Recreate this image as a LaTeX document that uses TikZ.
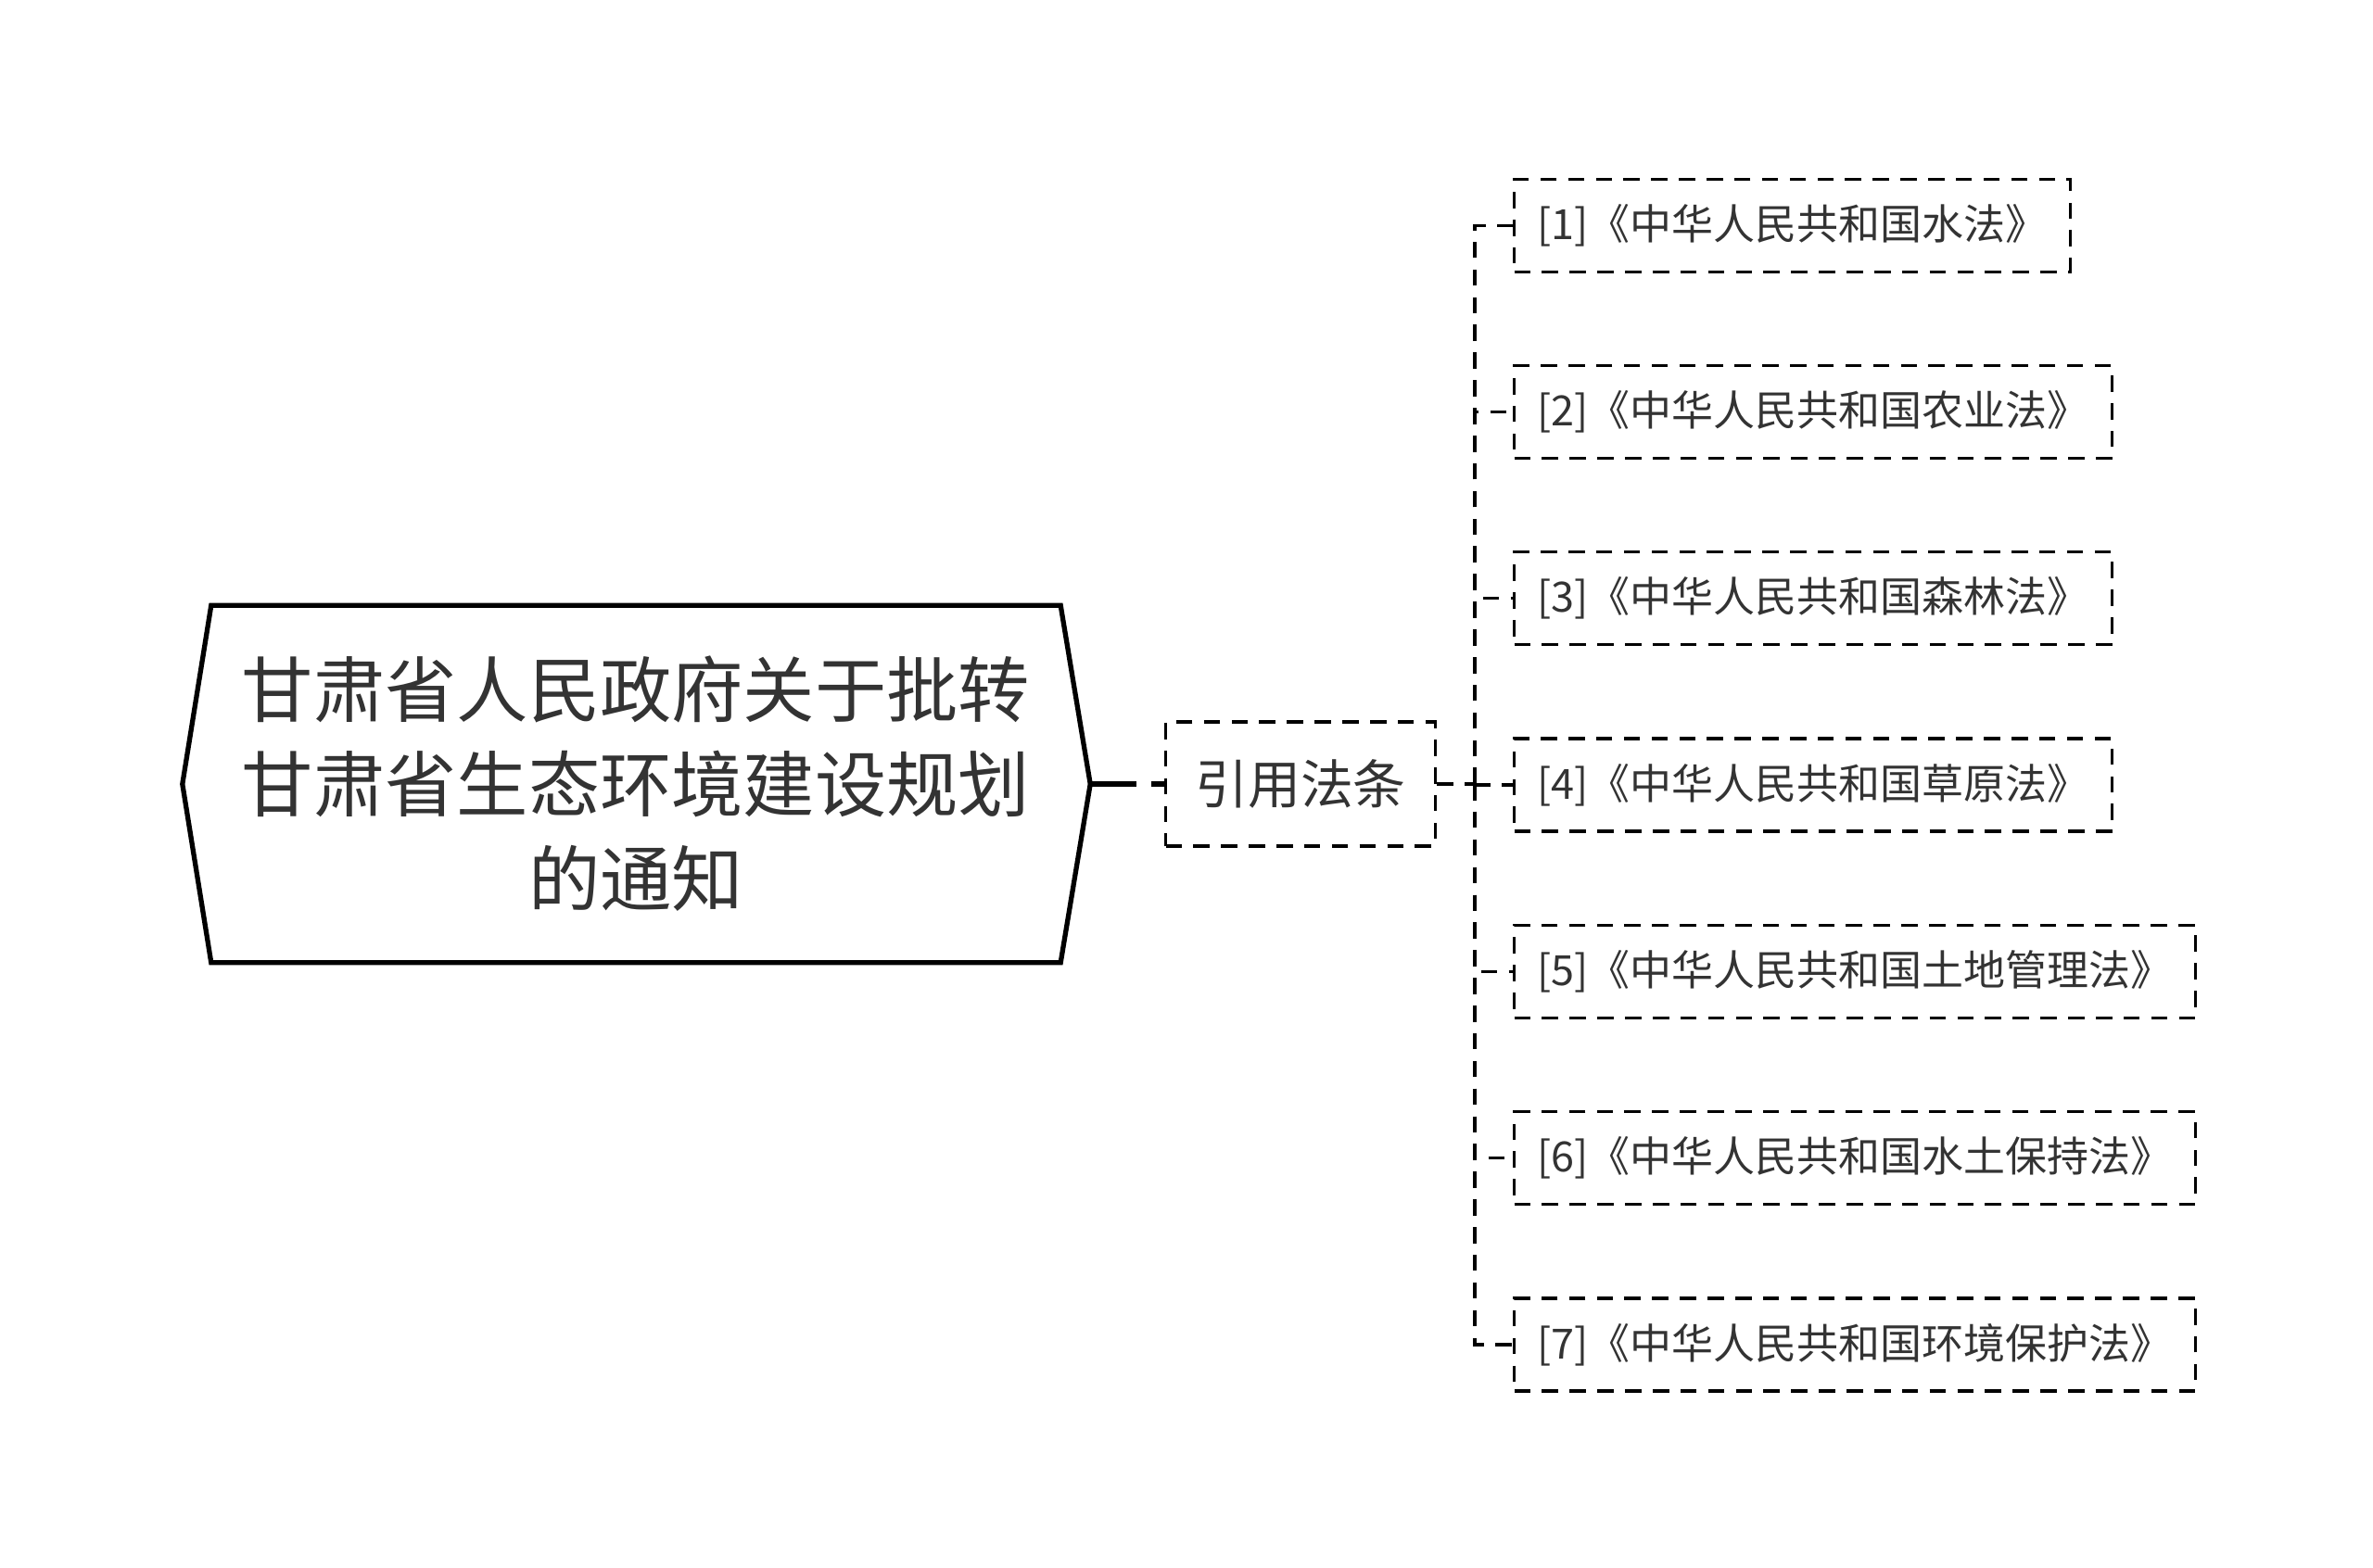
\documentclass[tikz,border=0pt]{standalone}
\usepackage{fontspec}
\setmainfont{Noto Sans CJK SC}
\usetikzlibrary{calc}

\begin{document}
\begin{tikzpicture}[
  ink/.style={text=black!80},
  dashline/.style={line width=0.9pt,dash pattern=on 5pt off 3.5pt},
  lawbox/.style={draw,dashline,anchor=west,inner xsep=0.25cm,minimum height=1.0cm,
    font=\fontsize{12.8pt}{15pt}\selectfont,ink},
  citebox/.style={draw,dashline,minimum width=2.91cm,minimum height=1.34cm,
    font=\fontsize{16.2pt}{20pt}\selectfont,ink},
  titlenode/.style={minimum width=9.15cm,minimum height=3.84cm,align=center,
    font=\fontsize{22pt}{29pt}\selectfont,ink}]
  \useasboundingbox (0,0) rectangle (25.6,-16.91);

  % root
  \node[titlenode] (title) at (6.86,-8.46) {甘肃省人民政府关于批转\\甘肃省生态环境建设规划\\的通知};
  \coordinate (tip) at ([xshift=0.32cm]title.east);
  \draw[line width=1.5pt] (title.north west) -- (title.north east) -- (tip)
    -- (title.south east) -- (title.south west) -- ([xshift=-0.31cm]title.west) -- cycle;

  % branch
  \node[citebox] (cite) at (14.03,-8.46) {引用法条};
  \draw[line width=1.5pt,dash pattern=on 0.5cm off 0.16cm] (tip) -- (cite.west);
  \coordinate (fork) at (15.91,-8.46);
  \draw[dashline] (cite.east) -- (fork);

  % laws
  \foreach \i/\t in {1/水法,2/农业法,3/森林法,4/草原法,5/土地管理法,6/水土保持法,7/环境保护法}
    \node[lawbox] (law\i) at (16.32,{-8.47+2.013*(4-\i)}) {[\i]《中华人民共和国\t》};
  \foreach \i in {1,...,7} \draw[dashline] (fork) |- (law\i.west);
\end{tikzpicture}
\end{document}
